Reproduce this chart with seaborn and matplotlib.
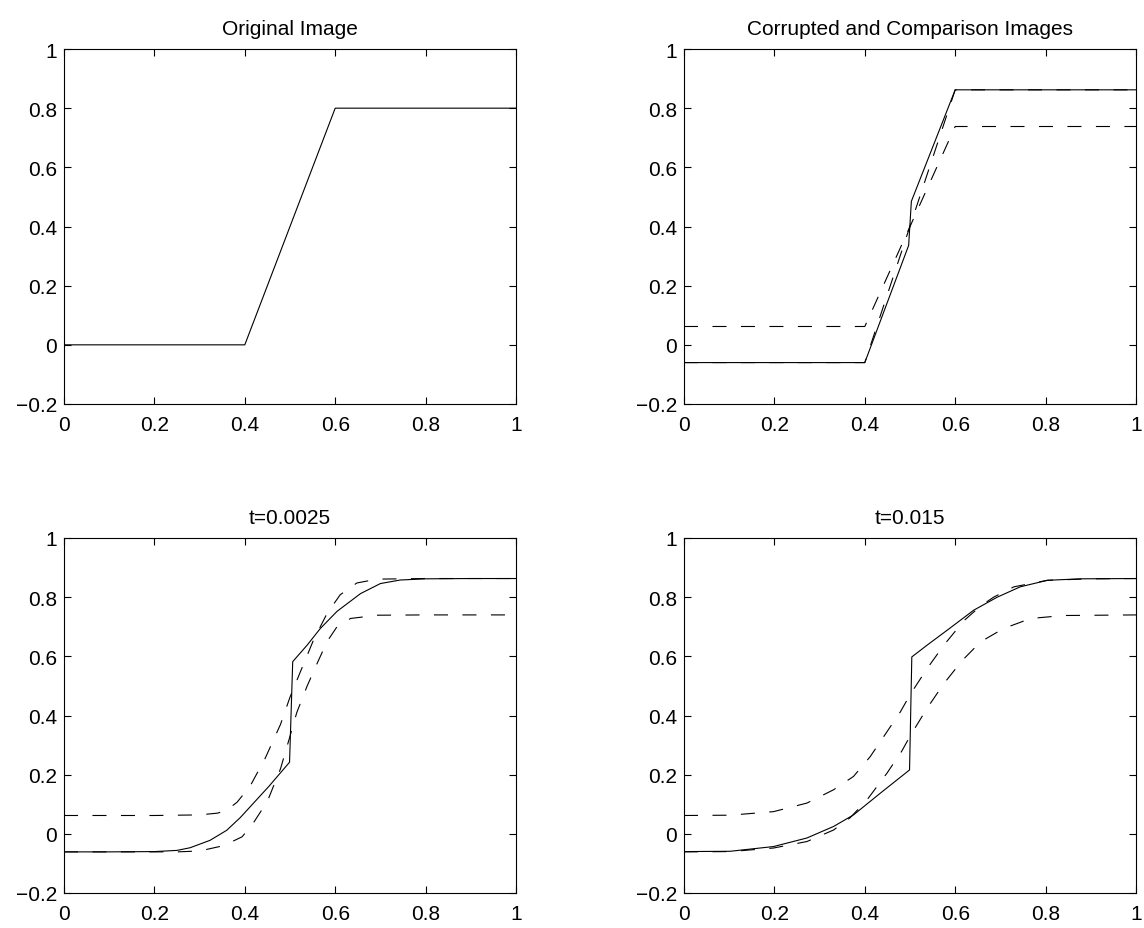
import matplotlib
matplotlib.use("Agg")
import matplotlib.pyplot as plt
import seaborn as sns

# ---- data ----
x_ticks = [0, 0.2, 0.4, 0.6, 0.8, 1]
x_tick_labels = ["0", "0.2", "0.4", "0.6", "0.8", "1"]
y_ticks = [-0.2, 0, 0.2, 0.4, 0.6, 0.8, 1]
y_tick_labels = ["\u22120.2", "0", "0.2", "0.4", "0.6", "0.8", "1"]
titles = ["Original Image", "Corrupted and Comparison Images", "t=0.0025", "t=0.015"]

# panel 1: original image
orig_x = [0, 0.4, 0.6, 1]
orig_y = [0, 0, 0.8, 0.8]

# panel 2: corrupted (solid) and comparison (dashed)
corr_x = [0, 0.4, 0.497, 0.503, 0.6, 1]
corr_y = [-0.06, -0.06, 0.336, 0.485, 0.862, 0.862]
cmp_a_x = [0, 0.4, 0.6, 1]
cmp_a_y = [-0.06, -0.06, 0.862, 0.862]
cmp_b_x = [0, 0.4, 0.6, 1]
cmp_b_y = [0.062, 0.062, 0.738, 0.738]

# panel 3: t=0.0025
t1_sol_x = [0, 0.1, 0.2, 0.25, 0.279, 0.323, 0.36, 0.39, 0.42, 0.453, 0.499, 0.506,
            0.538, 0.567, 0.604, 0.656, 0.70, 0.744, 0.8, 0.9, 1]
t1_sol_y = [-0.061, -0.061, -0.06, -0.056, -0.047, -0.022, 0.012, 0.055, 0.105, 0.16, 0.242, 0.582,
            0.638, 0.694, 0.752, 0.812, 0.846, 0.858, 0.862, 0.863, 0.863]
t1_up_x = [0, 0.2, 0.3, 0.34, 0.36, 0.383, 0.412, 0.445, 0.479, 0.50, 0.523,
           0.552, 0.582, 0.611, 0.648, 0.693, 0.8, 1]
t1_up_y = [0.062, 0.062, 0.064, 0.07, 0.08, 0.107, 0.162, 0.255, 0.37, 0.462, 0.548,
           0.655, 0.745, 0.808, 0.848, 0.861, 0.863, 0.863]
t1_lo_x = [0, 0.25, 0.3, 0.353, 0.394, 0.416, 0.45, 0.479, 0.50, 0.515, 0.538,
           0.56, 0.582, 0.604, 0.634, 0.693, 0.8, 1]
t1_lo_y = [-0.061, -0.061, -0.058, -0.04, -0.01, 0.03, 0.11, 0.22, 0.33, 0.41, 0.50,
           0.576, 0.65, 0.70, 0.728, 0.739, 0.74, 0.74]

# panel 4: t=0.015
t2_sol_x = [0, 0.102, 0.198, 0.272, 0.331, 0.375, 0.434, 0.499, 0.504, 0.538,
            0.582, 0.641, 0.693, 0.744, 0.804, 0.877, 1]
t2_sol_y = [-0.06, -0.059, -0.043, -0.014, 0.025, 0.064, 0.137, 0.216, 0.598, 0.638,
            0.688, 0.756, 0.80, 0.835, 0.857, 0.862, 0.863]
t2_up_x = [0, 0.102, 0.198, 0.272, 0.331, 0.375, 0.412, 0.449, 0.479, 0.50, 0.538,
           0.575, 0.619, 0.656, 0.685, 0.73, 0.804, 0.9, 1]
t2_up_y = [0.062, 0.063, 0.075, 0.104, 0.149, 0.194, 0.261, 0.345, 0.413, 0.47, 0.559,
           0.638, 0.72, 0.77, 0.80, 0.835, 0.857, 0.862, 0.863]
t2_lo_x = [0, 0.102, 0.198, 0.272, 0.331, 0.368, 0.405, 0.449, 0.482, 0.50, 0.538,
           0.575, 0.615, 0.656, 0.707, 0.767, 0.84, 1]
t2_lo_y = [-0.061, -0.06, -0.048, -0.026, 0.013, 0.055, 0.115, 0.205, 0.28, 0.33, 0.425,
           0.508, 0.585, 0.649, 0.694, 0.728, 0.738, 0.74]

LW = 0.8
SOLID = "-"
# dash ~14px, gap ~14px (given in linewidth units)
DASHED = (0, (10.1 / LW, 10.4 / LW))

panels = [
    [(orig_x, orig_y, SOLID)],
    [(corr_x, corr_y, SOLID), (cmp_a_x, cmp_a_y, DASHED), (cmp_b_x, cmp_b_y, DASHED)],
    [(t1_sol_x, t1_sol_y, SOLID), (t1_up_x, t1_up_y, DASHED), (t1_lo_x, t1_lo_y, DASHED)],
    [(t2_sol_x, t2_sol_y, SOLID), (t2_up_x, t2_up_y, DASHED), (t2_lo_x, t2_lo_y, DASHED)],
]

# ---- style ----
sns.set_style("ticks")
plt.rcParams["font.family"] = ["Liberation Sans", "DejaVu Sans"]

W, H = 1144, 929
fig, axes = plt.subplots(2, 2, figsize=(W / 100, H / 100), dpi=100)

# axes boxes in pixels: left, top, right, bottom
boxes = [(64, 50, 516, 405), (684, 50, 1136, 405),
         (64, 539, 516, 894), (684, 539, 1136, 894)]

for ax, box, lines, title in zip(axes.flat, boxes, panels, titles):
    l, t, r, b = box
    ax.set_position([l / W, 1 - b / H, (r - l) / W, (b - t) / H])
    for xs, ys, ls in lines:
        sns.lineplot(x=xs, y=ys, ax=ax, color="black", linewidth=LW,
                     linestyle=ls, estimator=None, sort=False)
    ax.set_xlim(0, 1)
    ax.set_ylim(-0.2, 1)
    ax.set_xticks(x_ticks)
    ax.set_xticklabels(x_tick_labels)
    ax.set_yticks(y_ticks)
    ax.set_yticklabels(y_tick_labels)
    ax.tick_params(direction="in", top=True, right=True, length=5, width=0.8,
                   labelsize=15, color="black", labelcolor="black")
    ax.tick_params(axis="x", pad=8)
    ax.tick_params(axis="y", pad=5)
    for sp in ax.spines.values():
        sp.set_visible(True)
        sp.set_linewidth(0.8)
        sp.set_color("black")
    ax.set_title(title, fontsize=15, pad=11, color="black")

fig.savefig("out.png", dpi=100)
